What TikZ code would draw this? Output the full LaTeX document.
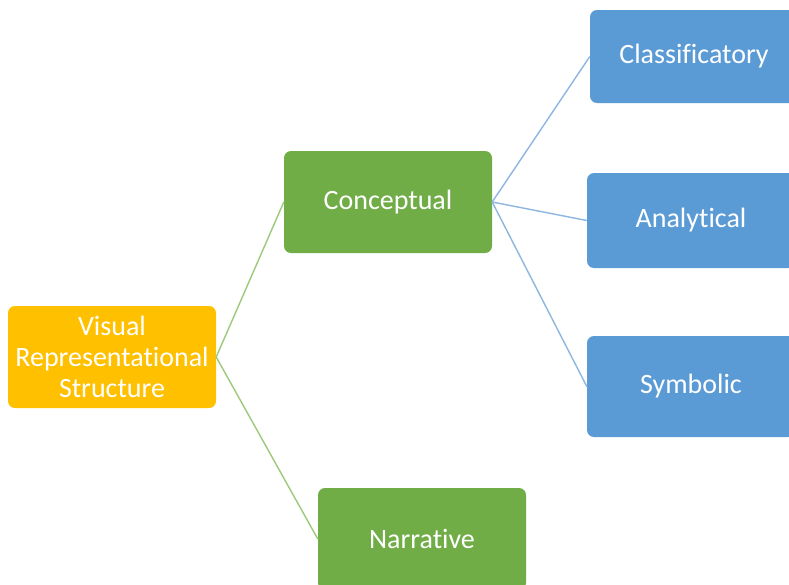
\documentclass[tikz,border=0pt]{standalone}
\usepackage{fontspec}
\setmainfont[Ligatures=NoCommon]{Carlito}
\newcommand{\nolig}{\kern0pt{}}
\newcommand{\lowertext}[1]{\raisebox{-1.5pt}{#1}}
\definecolor{orangebox}{HTML}{FFC000}
\definecolor{greenbox}{HTML}{70AD47}
\definecolor{bluebox}{HTML}{5B9BD5}
\definecolor{greenline}{HTML}{9CC97A}
\definecolor{blueline}{HTML}{8DB6E0}
\tikzset{
  box/.style={rounded corners=7pt, draw=none, text=white, align=center,
    inner sep=0pt, font=\fontsize{28}{31}\selectfont},
  rootbox/.style={box, fill=orangebox},
  midbox/.style={box, fill=greenbox},
  leafbox/.style={box, fill=bluebox},
  gline/.style={draw=greenline, line width=1.4pt},
  bline/.style={draw=blueline, line width=1.4pt}
}
\begin{document}
\begin{tikzpicture}[x=1pt,y=-1pt]
\useasboundingbox (0,0) rectangle (789,584);
\clip (0,0) rectangle (789,584);
\fill[white] (0,0) rectangle (789,584);
\node[rootbox, minimum width=208pt, minimum height=102pt] (vrs) at (112,357) {Visual\\Representat\nolig ional\\Structure};
\node[midbox, minimum width=208pt, minimum height=102pt] (con) at (388,202) {\lowertext{Conceptual}};
\node[midbox, minimum width=208pt, minimum height=102pt] (nar) at (422,539) {\lowertext{Narrative}};
\node[leafbox, minimum width=208pt, minimum height=93pt] (cla) at (694,56.5) {\lowertext{Classif\nolig icatory}};
\node[leafbox, minimum width=208pt, minimum height=95pt] (ana) at (691,220.5) {\lowertext{Analyt\nolig ical}};
\node[leafbox, minimum width=208pt, minimum height=101pt] (sym) at (691,386.5) {\lowertext{Symbolic}};
\draw[gline] (vrs.east) -- (con.west);
\draw[gline] (vrs.east) -- (nar.west);
\draw[bline] (con.east) -- (cla.west);
\draw[bline] (con.east) -- (ana.west);
\draw[bline] (con.east) -- (sym.west);
\end{tikzpicture}
\end{document}
